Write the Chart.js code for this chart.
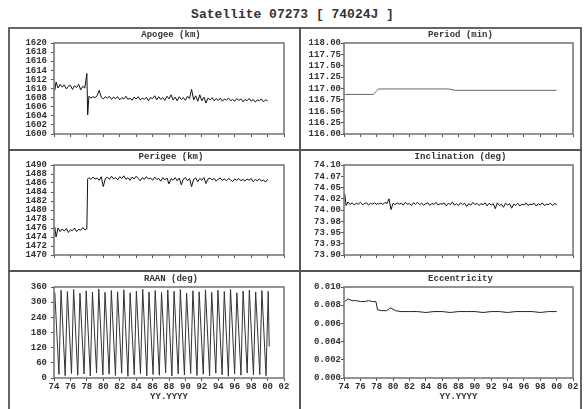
<!DOCTYPE html>
<html>
<head>
<meta charset="utf-8">
<script src="https://cdn.jsdelivr.net/npm/chart.js@4.4.1/dist/chart.umd.min.js"></script>
<style>
  html, body { margin: 0; padding: 0; background: #fff; }
  #page { position: relative; width: 585px; height: 409px; overflow: hidden; }
  #title { position: absolute; left: 0; top: 7px; width: 585px; line-height: 16px; text-align: center;
           font: bold 13px "Liberation Mono", monospace; color: #333; }
  .frame { position: absolute; border: 2px solid #666; box-sizing: border-box; }
  .rule { position: absolute; background: #555; }
  canvas { position: absolute; }
</style>
</head>
<body>
<div id="page">
  <div id="title">Satellite 07273 [ 74024J ]</div>
  <div class="frame" style="left:8px; top:27px; width:574px; height:390px;"></div>
  <div class="rule" style="left:299px; top:27px; width:2px; height:390px;"></div>
  <div class="rule" style="left:8px; top:149px; width:574px; height:2px;"></div>
  <div class="rule" style="left:8px; top:270px; width:574px; height:2px;"></div>

  <canvas id="apogee" width="280" height="120" style="left:10px; top:29px;"></canvas>
  <canvas id="period" width="279" height="120" style="left:301px; top:29px;"></canvas>
  <canvas id="perigee" width="280" height="119" style="left:10px; top:151px;"></canvas>
  <canvas id="incl" width="279" height="119" style="left:301px; top:151px;"></canvas>
  <canvas id="raan" width="280" height="133" style="left:10px; top:272px;"></canvas>
  <canvas id="ecc" width="279" height="133" style="left:301px; top:272px;"></canvas>
</div>

<script>
// ---- data ----
const yearTicks = [1974, 1976, 1978, 1980, 1982, 1984, 1986, 1988, 1990, 1992, 1994, 1996, 1998, 2000, 2002];
const yearLabels = ['74', '76', '78', '80', '82', '84', '86', '88', '90', '92', '94', '96', '98', '00', '02'];

const years = [
  1974.1, 1974.25, 1974.5, 1974.75,
  1975, 1975.25, 1975.5, 1975.75,
  1976, 1976.25, 1976.5, 1976.75,
  1977, 1977.25, 1977.5, 1977.75,
  1978, 1978.1, 1978.25, 1978.5, 1978.75,
  1979, 1979.25, 1979.5, 1979.75,
  1980, 1980.25, 1980.5, 1980.75,
  1981, 1981.25, 1981.5, 1981.75,
  1982, 1982.25, 1982.5, 1982.75,
  1983, 1983.25, 1983.5, 1983.75,
  1984, 1984.25, 1984.5, 1984.75,
  1985, 1985.25, 1985.5, 1985.75,
  1986, 1986.25, 1986.5, 1986.75,
  1987, 1987.25, 1987.5, 1987.75,
  1988, 1988.25, 1988.5, 1988.75,
  1989, 1989.25, 1989.5, 1989.75,
  1990, 1990.25, 1990.5, 1990.75,
  1991, 1991.25, 1991.5, 1991.75,
  1992, 1992.25, 1992.5, 1992.75,
  1993, 1993.25, 1993.5, 1993.75,
  1994, 1994.25, 1994.5, 1994.75,
  1995, 1995.25, 1995.5, 1995.75,
  1996, 1996.25, 1996.5, 1996.75,
  1997, 1997.25, 1997.5, 1997.75,
  1998, 1998.25, 1998.5, 1998.75,
  1999, 1999.25, 1999.5, 1999.75,
  2000
];

const apogee = [
  1609.6, 1611.4, 1610.1, 1610.9,
  1610.3, 1610.8, 1609.9, 1610.5,
  1610.7, 1609.8, 1610.6, 1610.2,
  1610.9, 1609.7, 1610.5, 1610.1,
  1613.3, 1604.2, 1608.3, 1607.9, 1608.2,
  1608.0, 1608.4, 1609.6, 1608.1,
  1607.7, 1608.2, 1607.9, 1608.3,
  1607.6, 1608.1, 1607.8, 1608.2,
  1607.5, 1608.0, 1607.7, 1608.3,
  1607.6, 1607.9, 1607.4, 1608.1,
  1607.7, 1608.2, 1607.5, 1607.9,
  1607.6, 1608.1, 1607.3, 1608.0,
  1607.8, 1608.4, 1607.5, 1608.2,
  1607.6, 1608.0, 1607.4, 1608.3,
  1607.7, 1608.6, 1607.5, 1608.1,
  1607.3, 1608.2, 1607.6, 1608.0,
  1607.4, 1608.3, 1607.8, 1609.8,
  1607.5, 1608.4, 1607.2, 1608.6,
  1607.3, 1608.1, 1606.8, 1607.9,
  1607.5, 1608.0, 1607.3, 1607.8,
  1607.4, 1607.9, 1607.2, 1607.7,
  1607.5, 1607.9, 1607.3, 1607.6,
  1607.2, 1607.8, 1607.4, 1607.7,
  1607.1, 1607.6, 1607.3, 1607.8,
  1607.2, 1607.6, 1607.0, 1607.5,
  1607.3, 1607.7, 1607.1, 1607.5,
  1607.3
];

const perigee = [
  1476.2, 1474.0, 1476.0, 1475.2,
  1475.8, 1475.3, 1475.9, 1475.0,
  1475.6, 1475.4, 1476.0, 1475.2,
  1475.7, 1475.5, 1476.1, 1475.6,
  1475.8, 1486.9, 1487.2, 1486.8, 1487.3,
  1486.9, 1487.1, 1486.6, 1487.4,
  1485.2, 1487.0, 1487.3, 1486.8,
  1487.5, 1486.9, 1487.2, 1486.7,
  1487.4, 1487.0, 1487.6, 1486.8,
  1487.2, 1486.6, 1487.3, 1486.9,
  1487.5, 1487.0, 1486.5, 1487.2,
  1486.8, 1487.4, 1486.9, 1487.1,
  1486.6, 1487.3, 1486.8, 1487.0,
  1486.4, 1487.2, 1486.7, 1487.1,
  1485.8, 1487.0, 1486.6, 1487.2,
  1486.5, 1487.1, 1485.6, 1486.9,
  1487.2, 1486.5, 1487.0, 1485.2,
  1486.8, 1487.1, 1486.3, 1487.0,
  1486.6, 1487.2, 1485.9, 1486.9,
  1487.1, 1486.7, 1487.0, 1486.4,
  1486.9, 1487.1, 1486.6, 1486.9,
  1486.5, 1487.0, 1486.7, 1486.3,
  1486.9, 1486.6, 1487.0, 1486.5,
  1486.8, 1486.4, 1486.9, 1486.6,
  1487.0, 1486.3, 1486.8, 1486.5,
  1486.9, 1486.4, 1486.7, 1486.2,
  1486.8
];

const inclination = [
  74.035, 74.010, 74.018, 74.012,
  74.016, 74.011, 74.015, 74.013,
  74.017, 74.012, 74.014, 74.016,
  74.011, 74.015, 74.013, 74.016,
  74.012, 74.015, 74.013, 74.016, 74.012,
  74.017, 74.014, 74.025, 74.001,
  74.015, 74.012, 74.016, 74.013,
  74.015, 74.011, 74.017, 74.013,
  74.014, 74.010, 74.016, 74.013,
  74.017, 74.012, 74.015, 74.011,
  74.014, 74.016, 74.010, 74.015,
  74.012, 74.017, 74.011, 74.014,
  74.013, 74.016, 74.009, 74.015,
  74.012, 74.018, 74.011, 74.014,
  74.010, 74.016, 74.012, 74.015,
  74.008, 74.014, 74.011, 74.017,
  74.012, 74.015, 74.010, 74.014,
  74.012, 74.016, 74.009, 74.015,
  74.011, 74.014, 74.003, 74.016,
  74.010, 74.013, 74.006, 74.015,
  74.011, 74.014, 74.004, 74.013,
  74.010, 74.015, 74.009, 74.013,
  74.011, 74.016, 74.010, 74.013,
  74.012, 74.015, 74.009, 74.014,
  74.011, 74.016, 74.010, 74.013,
  74.012, 74.015, 74.010, 74.014,
  74.012
];

const periodYears = [1974.1, 1977.6, 1978.2, 1986.8, 1987.6, 2000.0];
const periodValues = [116.87, 116.87, 116.99, 116.99, 116.96, 116.96];

const eccYears = [
  1974.1, 1974.5, 1975, 1975.5, 1976, 1976.5, 1977, 1977.5, 1977.9,
  1978.1, 1978.6, 1979.2, 1979.7, 1980.3,
  1981, 1982, 1983, 1984, 1985, 1986, 1987, 1988, 1989, 1990,
  1991, 1992, 1993, 1994, 1995, 1996, 1997, 1998, 1999, 2000
];
const eccValues = [
  0.0084, 0.0087, 0.0085, 0.0085, 0.0084, 0.0084, 0.0085, 0.0084, 0.0084,
  0.0075, 0.0074, 0.0074, 0.0077, 0.0074,
  0.0073, 0.0073, 0.0073, 0.0072, 0.0073, 0.0073, 0.0072, 0.0073, 0.0073, 0.0073,
  0.0072, 0.0073, 0.0073, 0.0072, 0.0073, 0.0073, 0.0073, 0.0072, 0.0073, 0.0073
];

const raanYears = [
  1974.10, 1974.60, 1974.86, 1975.36, 1975.63, 1976.13, 1976.39, 1976.89, 1977.16, 1977.66,
  1977.92, 1978.42, 1978.68, 1979.18, 1979.45, 1979.95, 1980.21, 1980.71, 1980.98, 1981.48,
  1981.74, 1982.24, 1982.50, 1983.00, 1983.27, 1983.77, 1984.03, 1984.53, 1984.80, 1985.30,
  1985.56, 1986.06, 1986.32, 1986.82, 1987.09, 1987.59, 1987.85, 1988.35, 1988.62, 1989.12,
  1989.38, 1989.88, 1990.14, 1990.64, 1990.91, 1991.41, 1991.67, 1992.17, 1992.44, 1992.94,
  1993.20, 1993.70, 1993.96, 1994.46, 1994.73, 1995.23, 1995.49, 1995.99, 1996.26, 1996.76,
  1997.02, 1997.52, 1997.78, 1998.28, 1998.55, 1999.05, 1999.31, 1999.81, 2000.08, 2000.20
];
const raanValues = [
  338, 14, 347, 9, 342, 18, 350, 11, 336, 16,
  345, 8, 340, 20, 352, 12, 339, 15, 346, 10,
  341, 19, 349, 7, 337, 13, 344, 17, 351, 9,
  340, 14, 346, 11, 338, 21, 348, 8, 343, 16,
  350, 12, 336, 18, 345, 10, 341, 15, 349, 9,
  339, 19, 347, 13, 342, 7, 351, 16, 337, 11,
  344, 20, 348, 12, 340, 14, 346, 9, 343, 125
];

// y tick values and their printed labels, bottom to top
const apogeeTicks = [1600, 1602, 1604, 1606, 1608, 1610, 1612, 1614, 1616, 1618, 1620];
const apogeeLabels = ['1600', '1602', '1604', '1606', '1608', '1610', '1612', '1614', '1616', '1618', '1620'];
const perigeeTicks = [1470, 1472, 1474, 1476, 1478, 1480, 1482, 1484, 1486, 1488, 1490];
const perigeeLabels = ['1470', '1472', '1474', '1476', '1478', '1480', '1482', '1484', '1486', '1488', '1490'];
const raanTicks = [0, 60, 120, 180, 240, 300, 360];
const raanLabels = ['0', '60', '120', '180', '240', '300', '360'];
const periodTicks = [116, 116.25, 116.5, 116.75, 117, 117.25, 117.5, 117.75, 118];
const periodLabels = ['116.00', '116.25', '116.50', '116.75', '117.00', '117.25', '117.50', '117.75', '118.00'];
const inclTicks = [73.9, 73.925, 73.95, 73.975, 74, 74.025, 74.05, 74.075, 74.1];
const inclLabels = ['73.90', '73.93', '73.95', '73.98', '74.00', '74.02', '74.05', '74.07', '74.10'];
const eccTicks = [0, 0.002, 0.004, 0.006, 0.008, 0.010];
const eccLabels = ['0.000', '0.002', '0.004', '0.006', '0.008', '0.010'];

// ---- drawing ----
const tickFont = { family: 'Liberation Mono', size: 9, weight: 'bold' };
const textColor = '#333';

function toPoints(xs, ys) {
    return xs.map((x, i) => ({ x: x, y: ys[i] }));
}

function panel(id, title, points, ticks, labels, opts) {
    const left = opts.side === 'left';
    const box = {
        id: 'plotBox',
        afterDraw(chart) {
            const ctx = chart.ctx;
            const a = chart.chartArea;
            ctx.save();
            ctx.strokeStyle = '#707070';
            ctx.lineWidth = 1.5;
            ctx.strokeRect(a.left, a.top, a.right - a.left, a.bottom - a.top);
            ctx.fillStyle = textColor;
            ctx.font = 'bold 9px "Liberation Mono"';
            ctx.textAlign = 'center';
            ctx.textBaseline = 'middle';
            ctx.fillText(title, (a.left + a.right) / 2 + 2, a.top - 8);
            ctx.restore();
        }
    };
    new Chart(document.getElementById(id), {
        type: 'line',
        data: {
            datasets: [{
                data: points,
                borderColor: opts.color,
                borderWidth: 1,
                pointRadius: 0,
                tension: 0
            }]
        },
        options: {
            responsive: false,
            animation: false,
            layout: { padding: { top: opts.top, right: left ? 6 : 7, bottom: 0, left: 0 } },
            plugins: { legend: { display: false }, tooltip: { enabled: false } },
            scales: {
                x: {
                    type: 'linear',
                    min: 1974,
                    max: 2002,
                    afterBuildTicks: (s) => { s.ticks = yearTicks.map(v => ({ value: v })); },
                    afterFit: (s) => { s.height = opts.xHeight; },
                    border: { display: false },
                    grid: { drawOnChartArea: false, tickLength: 3, color: '#555' },
                    ticks: {
                        display: opts.years,
                        autoSkip: false,
                        maxRotation: 0,
                        padding: 0,
                        font: tickFont,
                        color: textColor,
                        callback: (v, i) => yearLabels[i]
                    },
                    title: {
                        display: opts.years,
                        text: 'YY.YYYY',
                        font: tickFont,
                        color: textColor,
                        padding: { top: 0, bottom: 3 }
                    }
                },
                y: {
                    type: 'linear',
                    min: ticks[0],
                    max: ticks[ticks.length - 1],
                    afterBuildTicks: (s) => { s.ticks = ticks.map(v => ({ value: v })); },
                    afterFit: (s) => { s.width = left ? 44 : 43; },
                    border: { display: false },
                    grid: { drawOnChartArea: false, tickLength: 3, color: '#555' },
                    ticks: {
                        autoSkip: false,
                        padding: left ? 4 : 0,
                        font: tickFont,
                        color: textColor,
                        callback: (v, i) => labels[i]
                    }
                }
            }
        },
        plugins: [box]
    });
}

panel('apogee', 'Apogee (km)', toPoints(years, apogee), apogeeTicks, apogeeLabels,
    { side: 'left', top: 14, xHeight: 15, years: false, color: '#111' });
panel('period', 'Period (min)', toPoints(periodYears, periodValues), periodTicks, periodLabels,
    { side: 'right', top: 14, xHeight: 15, years: false, color: '#666' });
panel('perigee', 'Perigee (km)', toPoints(years, perigee), perigeeTicks, perigeeLabels,
    { side: 'left', top: 14, xHeight: 15, years: false, color: '#111' });
panel('incl', 'Inclination (deg)', toPoints(years, inclination), inclTicks, inclLabels,
    { side: 'right', top: 14, xHeight: 15, years: false, color: '#111' });
panel('raan', 'RAAN (deg)', toPoints(raanYears, raanValues), raanTicks, raanLabels,
    { side: 'left', top: 15, xHeight: 27, years: true, color: '#333' });
panel('ecc', 'Eccentricity', toPoints(eccYears, eccValues), eccTicks, eccLabels,
    { side: 'right', top: 15, xHeight: 27, years: true, color: '#222' });
</script>
</body>
</html>
